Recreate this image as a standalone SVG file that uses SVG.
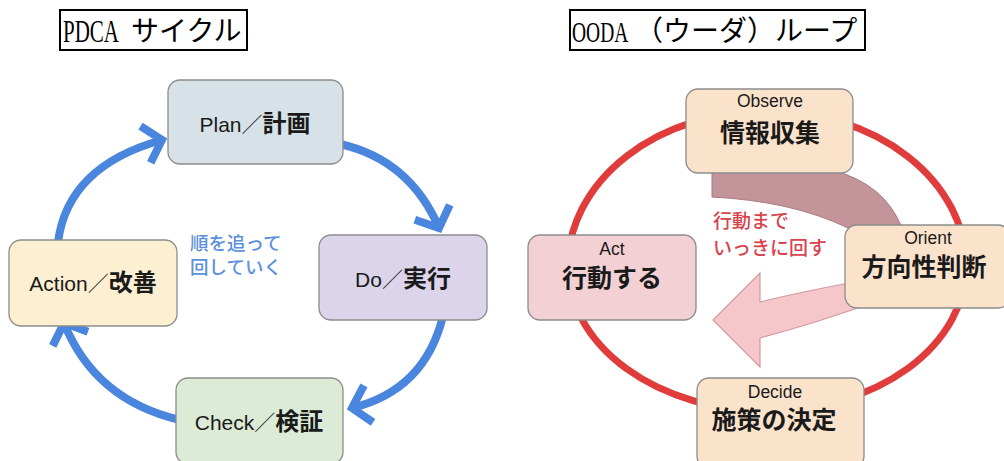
<svg xmlns="http://www.w3.org/2000/svg" width="1004" height="461" viewBox="0 0 1004 461">
<defs>
<style>
.title{fill:none;stroke:#000;stroke-width:2}
.tt{font-family:"Liberation Serif","Noto Sans CJK JP",serif;fill:#000}
.box{stroke:#8c8c8c;stroke-width:1.3}
.lat{font-family:"Liberation Sans","Noto Sans CJK JP",sans-serif;fill:#1a1a1a;font-size:21px}
.lo{font-family:"Liberation Sans","Noto Sans CJK JP",sans-serif;fill:#1a1a1a;font-size:17.5px}
.kb{font-family:"Noto Sans CJK JP",sans-serif;font-weight:bold;font-size:24px}
.kc{font-family:"Noto Sans CJK JP",sans-serif;font-weight:bold;font-size:25px;fill:#1a1a1a}
.blue{fill:none;stroke:#4a86de;stroke-width:8}
.bt{font-family:"Noto Sans CJK JP",sans-serif;font-weight:500;font-size:18.5px;fill:#5b90dc}
.rt{font-family:"Noto Sans CJK JP",sans-serif;font-weight:500;font-size:19px;fill:#d9434e}
.peach{fill:#fbe3cb}
</style>
<marker id="chev" markerUnits="userSpaceOnUse" viewBox="-30 -30 45 60" markerWidth="45" markerHeight="60" refX="0" refY="0" orient="auto" overflow="visible">
<path d="M-17,-19 L0,0 L-17,19" fill="none" stroke="#4a86de" stroke-width="8" stroke-linejoin="miter"/>
</marker>
</defs>
<rect width="1004" height="461" fill="#fff"/>

<g id="title-pdca">
<rect class="title" x="60" y="10" width="187" height="40"/>
<text class="tt" transform="translate(63,42) scale(1,1.55)" font-size="21">PDCA</text>
<text class="tt" x="131" y="41" font-size="28">サイクル</text>
</g>
<g id="title-ooda">
<rect class="title" x="570" y="10" width="295" height="40"/>
<text class="tt" transform="translate(572,42) scale(1,1.55)" font-size="19.5">OODA</text>
<text class="tt" x="635" y="41" font-size="28">（ウーダ）ループ</text>
</g>

<g id="connectors">
<path class="blue" d="M58,242 Q68,166 162,140" marker-end="url(#chev)"/>
<path class="blue" d="M340,144 Q410,160 439,228" marker-end="url(#chev)"/>
<path class="blue" d="M443,316 Q425,390 352,408" marker-end="url(#chev)"/>
<path class="blue" d="M180,420 Q95,400 64,323" marker-end="url(#chev)"/>
<path d="M568,266 A199,155 0 0 1 966,266 A199,145 0 0 1 568,266 Z" fill="none" stroke="#e03c3c" stroke-width="7"/>
<path d="M712,170 L832,170 Q885,184 902,228 L848,228 Q792,201 712,197 Z" fill="#c39499" stroke="#a9787e" stroke-width="1"/>
<path d="M760,302 Q800,292 860,281 L880,300 Q820,322 760,338 L760,367 L713,320 L760,273 Z" fill="#f5c6ca" stroke="#d39aa0" stroke-width="1.2"/>
</g>

<g id="label-pdca">
<text class="bt" x="190" y="250">順を追って</text>
<text class="bt" x="190" y="274">回していく</text>
</g>
<g id="label-ooda">
<text class="rt" x="713" y="228">行動まで</text>
<text class="rt" x="713" y="255">いっきに回す</text>
</g>

<g id="plan">
<rect class="box" x="168" y="80" width="175" height="84" rx="12" fill="#d6e2e7"/>
<text class="lat" x="255" y="132" text-anchor="middle">Plan／<tspan class="kb">計画</tspan></text>
</g>
<g id="do">
<rect class="box" x="319" y="235" width="168" height="85" rx="12" fill="#dcd4ea"/>
<text class="lat" x="403" y="287" text-anchor="middle">Do／<tspan class="kb">実行</tspan></text>
</g>
<g id="check">
<rect class="box" x="176" y="378" width="167" height="86" rx="12" fill="#dcebd6"/>
<text class="lat" x="259" y="430" text-anchor="middle">Check／<tspan class="kb">検証</tspan></text>
</g>
<g id="action">
<rect class="box" x="9" y="240" width="168" height="86" rx="12" fill="#fdf0d2"/>
<text class="lat" x="93" y="291" text-anchor="middle">Action／<tspan class="kb">改善</tspan></text>
</g>

<g id="observe">
<rect class="box peach" x="686" y="89" width="167" height="84" rx="12"/>
<text class="lo" x="770" y="107" text-anchor="middle">Observe</text>
<text class="kc" x="770" y="142" text-anchor="middle">情報収集</text>
</g>
<g id="orient">
<rect class="box peach" x="845" y="225" width="165" height="83" rx="12"/>
<text class="lo" x="928" y="244" text-anchor="middle">Orient</text>
<text class="kc" x="924" y="276" text-anchor="middle">方向性判断</text>
</g>
<g id="decide">
<rect class="box peach" x="697" y="378" width="167" height="90" rx="12"/>
<text class="lo" x="775" y="398" text-anchor="middle">Decide</text>
<text class="kc" x="774" y="429" text-anchor="middle">施策の決定</text>
</g>
<g id="act">
<rect class="box" x="528" y="235" width="168" height="85" rx="12" fill="#f3d0d4"/>
<text class="lo" x="612" y="255" text-anchor="middle">Act</text>
<text class="kc" x="612" y="287" text-anchor="middle">行動する</text>
</g>
</svg>
